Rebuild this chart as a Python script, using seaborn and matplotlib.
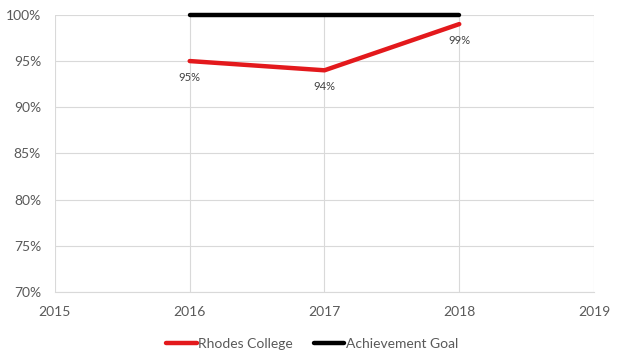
import matplotlib
matplotlib.use("Agg")
import matplotlib.pyplot as plt
import matplotlib.ticker as mticker
import pandas as pd
import seaborn as sns

years = [2016, 2017, 2018]
rhodes = [0.95, 0.94, 0.99]
goal = [1.00, 1.00, 1.00]
series_names = ["Rhodes College", "Achievement Goal"]
colors = ["#E3191C", "#000000"]

df = pd.DataFrame({
    "year": years * 2,
    "value": rhodes + goal,
    "series": [series_names[0]] * len(years) + [series_names[1]] * len(years),
})

sns.set_theme(style="white")
plt.rcParams["font.family"] = ["Lato", "DejaVu Sans"]

fig = plt.figure(figsize=(6.24, 3.62), dpi=100)
ax = fig.add_axes([0.088, 0.193, 0.864, 0.766])

sns.lineplot(data=df, x="year", y="value", hue="series",
             palette=dict(zip(series_names, colors)), linewidth=3.2,
             ax=ax, legend=False, zorder=3)
for ln in ax.lines:
    ln.set_clip_on(False)

# data labels under the Rhodes points
for x, v in zip(years, rhodes):
    ax.annotate(f"{v*100:.0f}%", (x, v), xytext=(0, -8), textcoords="offset points",
                ha="center", va="top", fontsize=8, color="#404040")

ax.set_xlim(2015, 2019)
ax.set_ylim(0.70, 1.00)
ax.set_xticks([2015, 2016, 2017, 2018, 2019])
ax.set_yticks([0.70, 0.75, 0.80, 0.85, 0.90, 0.95, 1.00])
ax.yaxis.set_major_formatter(mticker.FuncFormatter(lambda v, _: f"{v*100:.0f}%"))
ax.tick_params(axis="both", labelsize=10, colors="#595959", length=0, pad=10)
ax.set_xlabel("")
ax.set_ylabel("")
ax.grid(True, color="#D9D9D9", linewidth=0.8)
for s in ["top", "right", "left"]:
    ax.spines[s].set_visible(False)
ax.spines["bottom"].set_color("#D9D9D9")
ax.spines["bottom"].set_linewidth(0.8)

handles = [plt.Line2D([0], [0], color=c, linewidth=3.2) for c in colors]
fig.legend(handles, series_names, loc="lower center", bbox_to_anchor=(0.5, 0.0),
           ncol=2, frameon=False, fontsize=10, labelcolor="#595959",
           handlelength=2.2, handletextpad=0.1, columnspacing=1.5)

fig.savefig("out.png", dpi=100)
